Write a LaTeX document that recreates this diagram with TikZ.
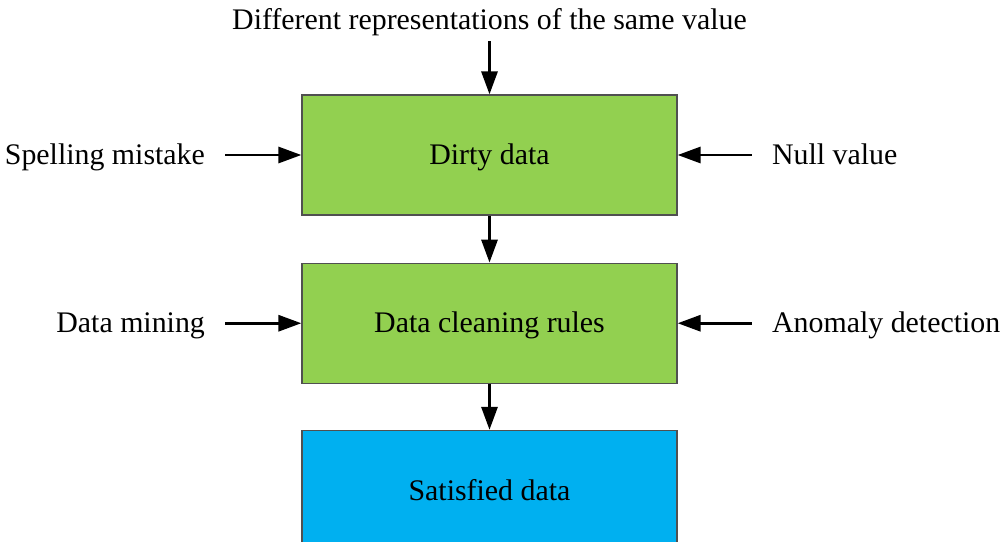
\documentclass[tikz,border=0pt]{standalone}
\usepackage{fontspec}
\setmainfont{Liberation Serif}
\usetikzlibrary{arrows.meta, positioning}

\definecolor{boxgreen}{HTML}{92D050}
\definecolor{boxblue}{HTML}{00B0F0}
\definecolor{boxedge}{HTML}{505050}

\begin{document}
\begin{tikzpicture}[>={Triangle[length=0.46cm, width=0.32cm]}, line width=1.7pt,
        font=\fontsize{17}{20}\selectfont,
        box/.style={draw=boxedge, line width=0.7pt, minimum width=7.5cm, minimum height=2.4cm, inner sep=0pt,
            text height=0.45cm, text depth=0.06cm},
        cause/.style={inner xsep=0.38cm, inner ysep=0.145cm, text height=0.45cm, text depth=0.06cm}]
        \useasboundingbox (0,0) rectangle (20.06,-10.82);
        % Processing stages
        \node [box, fill=boxgreen] (dirty) at (9.79,-3.1) {Dirty data};
        \node [box, fill=boxgreen, below=0.94cm of dirty] (rules) {Data cleaning rules};
        \node [box, fill=boxblue, below=0.92cm of rules] (satisfied) {Satisfied data};
        % Sources of dirty data
        \node [cause, above=1.06cm of dirty] (repr) {Different representations of the same value};
        \node [cause, left=1.52cm of dirty] (spelling) {Spelling mistake};
        \node [cause, right=1.48cm of dirty] (null) {Null value};
        % Rule sources
        \node [cause, left=1.52cm of rules] (mining) {Data mining};
        \node [cause, right=1.48cm of rules] (anomaly) {Anomaly detection};
        % Arrows
        \draw [->] (repr) -- (dirty);
        \draw [->] (spelling) -- (dirty);
        \draw [->] (null) -- (dirty);
        \draw [->] (mining) -- (rules);
        \draw [->] (anomaly) -- (rules);
        \draw [->] (dirty) -- (rules);
        \draw [->] (rules) -- (satisfied);
    \end{tikzpicture}
\end{document}
